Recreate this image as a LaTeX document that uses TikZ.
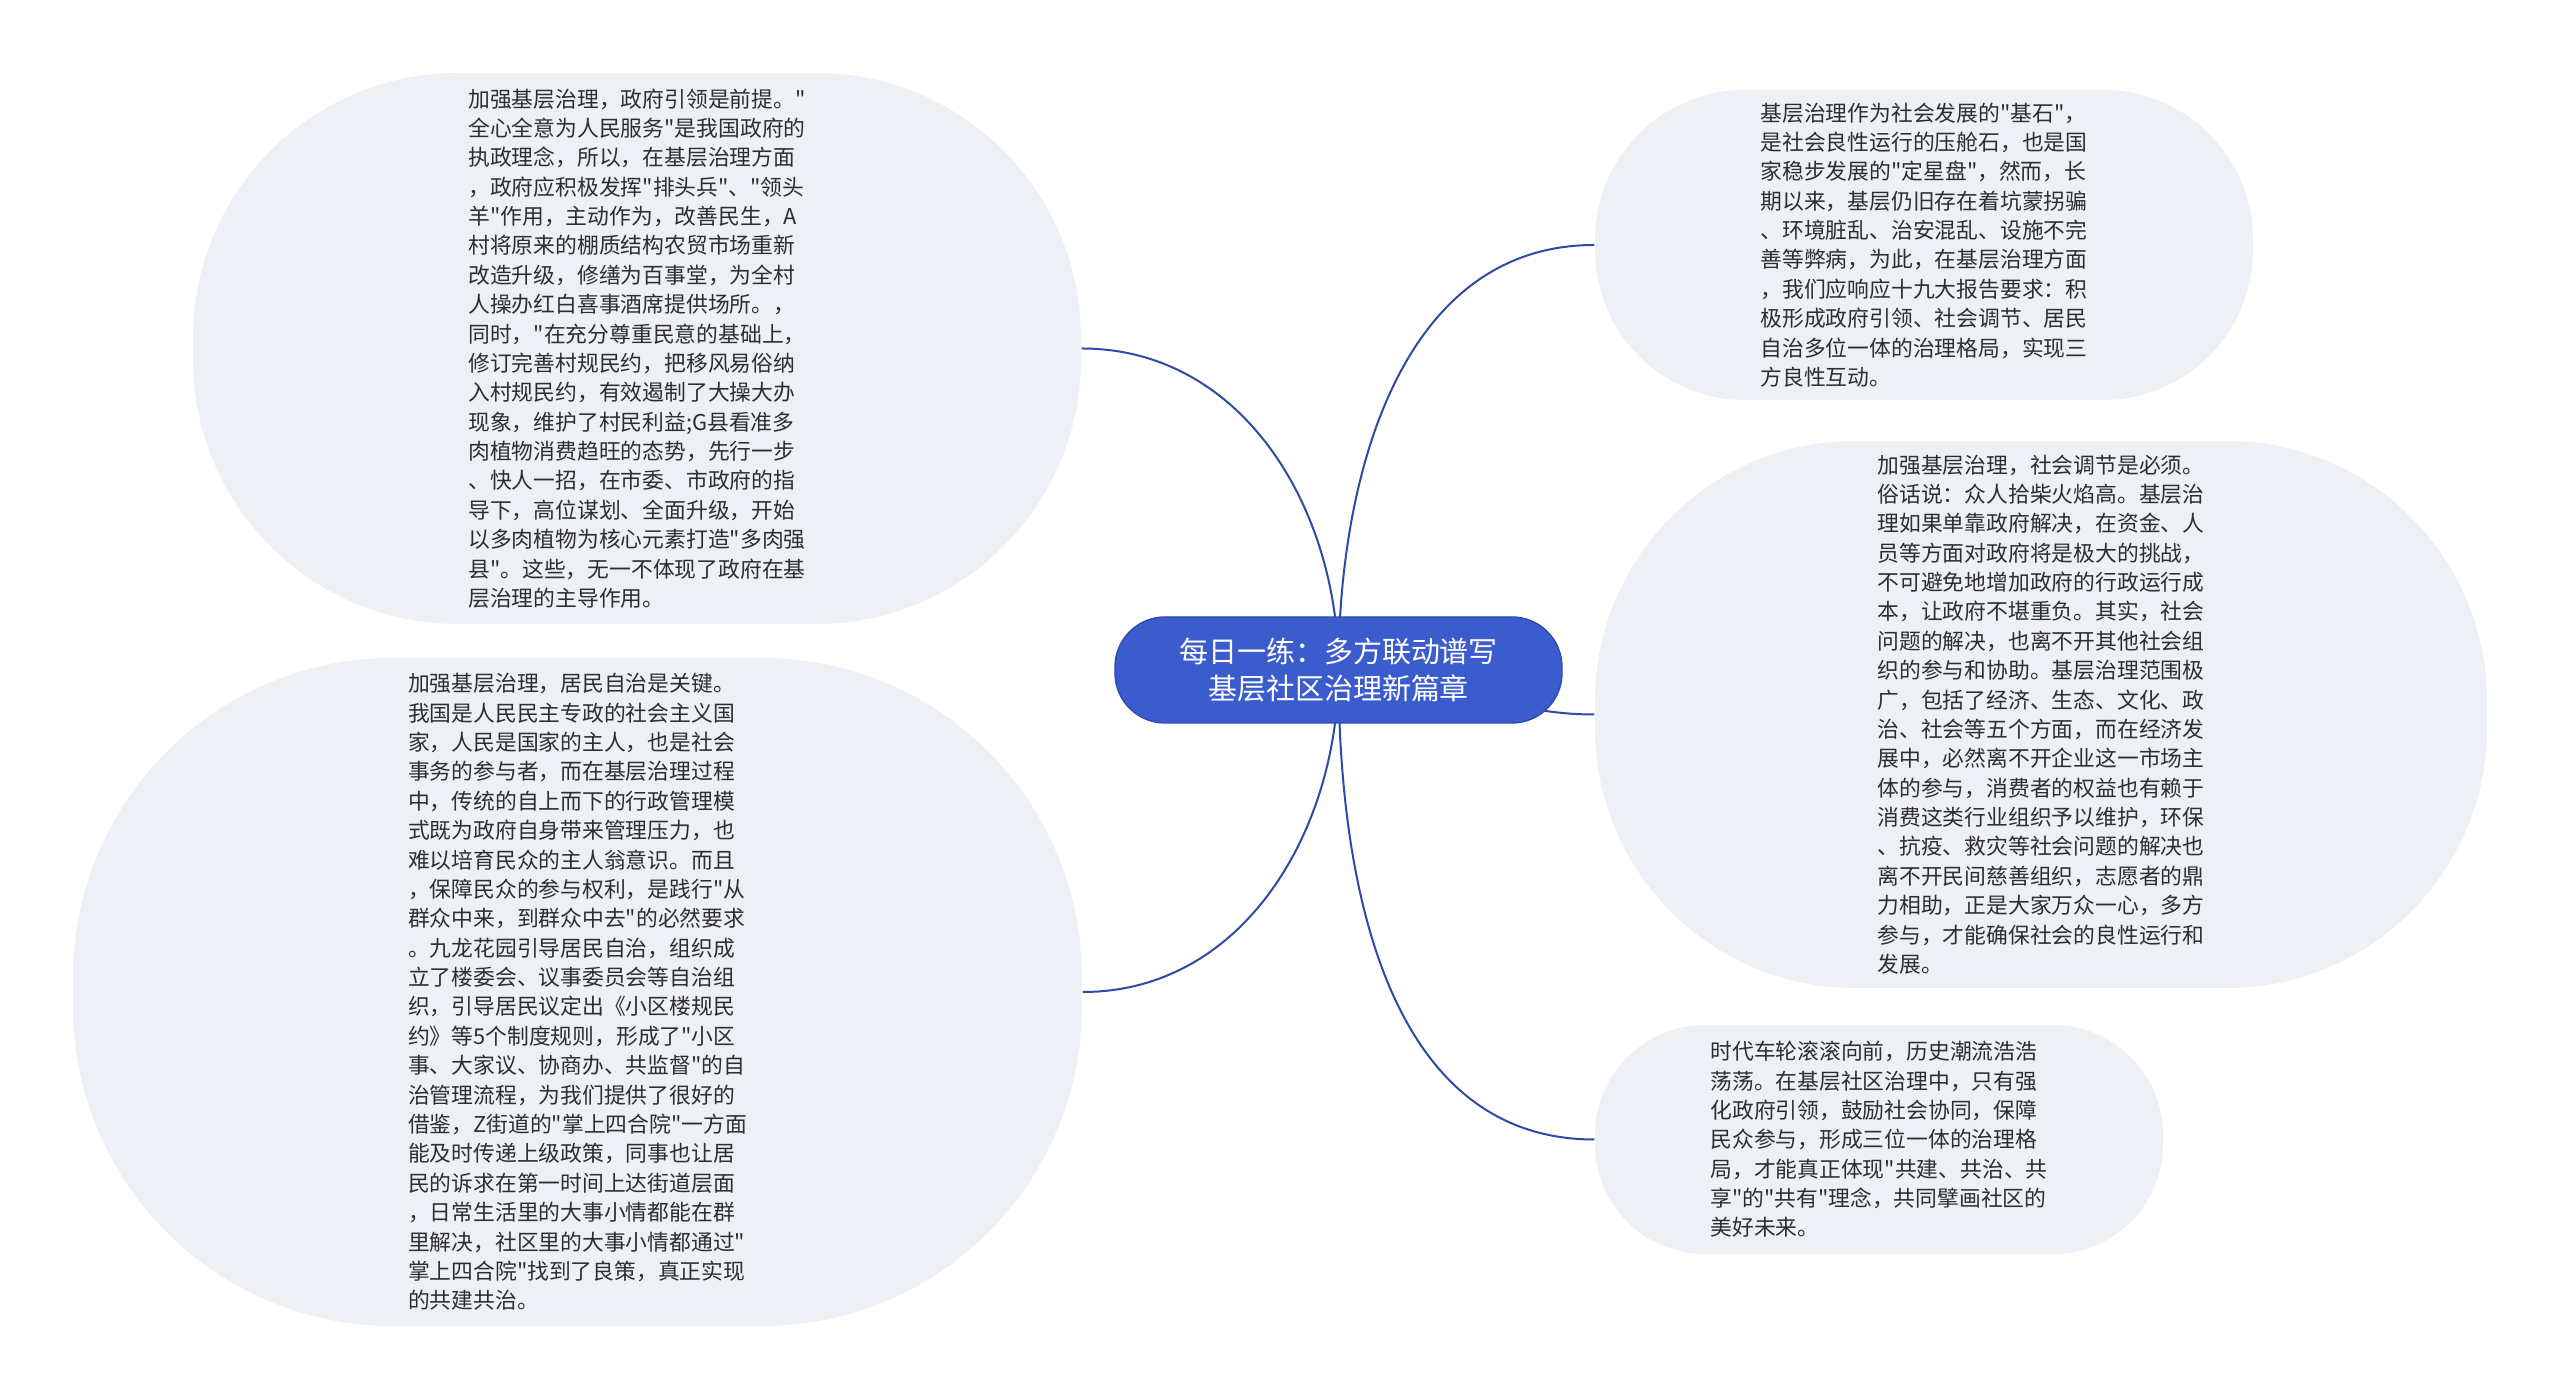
\documentclass[tikz,border=0pt]{standalone}
\usepackage{fontspec}
\setmainfont{Noto Sans CJK SC}[Ligatures=TeXOff]
\usepackage{tikz}
\usetikzlibrary{backgrounds}
\definecolor{leafgray}{HTML}{EDF0F4}
\definecolor{hubblue}{HTML}{3A5CCC}
\definecolor{hubedge}{HTML}{2F4DB0}
\definecolor{linkblue}{HTML}{2E4AA8}
\definecolor{textgray}{HTML}{2E2E2E}
\tikzset{
	leaf/.style={fill=leafgray, rounded corners=#1, align=left, text=textgray, inner sep=0pt,
		font=\fontsize{6.2pt}{8.36pt}\selectfont},
	hub/.style={fill=hubblue, draw=hubedge, line width=0.4pt, rounded corners=0.5cm, align=center,
		text=white, minimum width=4.47cm, minimum height=1.06cm, font=\fontsize{8.25pt}{10.5pt}\selectfont},
	link/.style={draw=linkblue, line width=0.02cm},
}

\begin{document}
\begin{tikzpicture}
		%%%%% START %%%%%
		\useasboundingbox (0, 0) rectangle (25.6, 14);
		
		\node[hub] (title) at (13.385, 7.30) {每日一练：多方联动谱写\\基层社区治理新篇章};
		
		% left side
		\node[leaf=2.65cm, minimum width=8.88cm, minimum height=5.51cm] (gov) at (6.37, 10.515) {加强基层治理，政府引领是前提。"\\全心全意为人民服务"是我国政府的\\执政理念，所以，在基层治理方面\\，政府应积极发挥"排头兵"、"领头\\羊"作用，主动作为，改善民生，A\\村将原来的棚质结构农贸市场重新\\改造升级，修缮为百事堂，为全村\\人操办红白喜事酒席提供场所。，\\同时，"在充分尊重民意的基础上，\\修订完善村规民约，把移风易俗纳\\入村规民约，有效遏制了大操大办\\现象，维护了村民利益;G县看准多\\肉植物消费趋旺的态势，先行一步\\、快人一招，在市委、市政府的指\\导下，高位谋划、全面升级，开始\\以多肉植物为核心元素打造"多肉强\\县"。这些，无一不体现了政府在基\\层治理的主导作用。};
		
		\node[leaf=3.2cm, minimum width=10.09cm, minimum height=6.68cm] (self) at (5.775, 4.08) {加强基层治理，居民自治是关键。\\我国是人民民主专政的社会主义国\\家，人民是国家的主人，也是社会\\事务的参与者，而在基层治理过程\\中，传统的自上而下的行政管理模\\式既为政府自身带来管理压力，也\\难以培育民众的主人翁意识。而且\\，保障民众的参与权利，是践行"从\\群众中来，到群众中去"的必然要求\\。九龙花园引导居民自治，组织成\\立了楼委会、议事委员会等自治组\\织，引导居民议定出《小区楼规民\\约》等5个制度规则，形成了"小区\\事、大家议、协商办、共监督"的自\\治管理流程，为我们提供了很好的\\借鉴，Z街道的"掌上四合院"一方面\\能及时传递上级政策，同事也让居\\民的诉求在第一时间上达街道层面\\，日常生活里的大事小情都能在群\\里解决，社区里的大事小情都通过"\\掌上四合院"找到了良策，真正实现\\的共建共治。};
		
		% right side
		\node[leaf=1.5cm, minimum width=6.58cm, minimum height=3.10cm] (base) at (19.24, 11.55) {基层治理作为社会发展的"基石"，\\是社会良性运行的压舱石，也是国\\家稳步发展的"定星盘"，然而，长\\期以来，基层仍旧存在着坑蒙拐骗\\、环境脏乱、治安混乱、设施不完\\善等弊病，为此，在基层治理方面\\，我们应响应十九大报告要求：积\\极形成政府引领、社会调节、居民\\自治多位一体的治理格局，实现三\\方良性互动。};
		
		\node[leaf=2.6cm, minimum width=8.92cm, minimum height=5.47cm] (social) at (20.41, 6.855) {加强基层治理，社会调节是必须。\\俗话说：众人拾柴火焰高。基层治\\理如果单靠政府解决，在资金、人\\员等方面对政府将是极大的挑战，\\不可避免地增加政府的行政运行成\\本，让政府不堪重负。其实，社会\\问题的解决，也离不开其他社会组\\织的参与和协助。基层治理范围极\\广，包括了经济、生态、文化、政\\治、社会等五个方面，而在经济发\\展中，必然离不开企业这一市场主\\体的参与，消费者的权益也有赖于\\消费这类行业组织予以维护，环保\\、抗疫、救灾等社会问题的解决也\\离不开民间慈善组织，志愿者的鼎\\力相助，正是大家万众一心，多方\\参与，才能确保社会的良性运行和\\发展。};
		
		\node[leaf=1.1cm, minimum width=5.68cm, minimum height=2.29cm] (future) at (18.79, 2.605) {时代车轮滚滚向前，历史潮流浩浩\\荡荡。在基层社区治理中，只有强\\化政府引领，鼓励社会协同，保障\\民众参与，形成三位一体的治理格\\局，才能真正体现"共建、共治、共\\享"的"共有"理念，共同擘画社区的\\美好未来。};
		
		\begin{pgfonlayer}{background}
			\fill[white] (0, 0) rectangle (25.6, 14);
			\draw[link] (title.center) to[out=90, in=0] (gov.east);
			\draw[link] (title.center) to[out=-90, in=0] (self.east);
			\draw[link] (title.center) to[out=90, in=180] (base.west);
			\draw[link] (title.center) to[out=0, in=180] (social.west);
			\draw[link] (title.center) to[out=-90, in=180] (future.west);
		\end{pgfonlayer}
		%%%%% END %%%%%
\end{tikzpicture}
\end{document}
